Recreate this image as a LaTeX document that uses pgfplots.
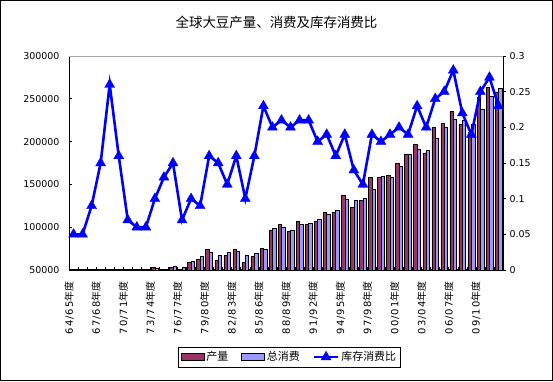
\documentclass[border=0pt]{standalone}
\usepackage{pgfplots}
\pgfplotsset{compat=1.18}
\usepackage{fontspec}
\setmainfont{Liberation Sans}
\newfontfamily\cjk{Noto Sans CJK SC}
\newfontfamily\numfont{DejaVu Sans}
\newfontfamily\lblnum{DejaVu Sans}[LetterSpace=10]
\definecolor{prod}{HTML}{993366}
\definecolor{cons}{HTML}{9999FF}
\definecolor{lineblue}{HTML}{0000FF}
\newcommand\lbl[1]{{\lblnum\fontsize{10}{10}\selectfont #1}{\cjk\fontsize{10}{10}\selectfont 年度}}
\pgfplotsset{
  prodleg/.style={legend image code/.code={\draw[fill=prod,draw=black,line width=0.6bp] (0bp,-3.5bp) rectangle (23bp,3.5bp);}},
  consleg/.style={legend image code/.code={\draw[fill=cons,draw=black,line width=0.6bp] (0bp,-3.5bp) rectangle (23bp,3.5bp);}},
  lineleg/.style={legend image code/.code={\draw[mark repeat=2,mark phase=2,##1] plot coordinates {(0bp,0bp) (12bp,0bp) (24bp,0bp)};}},
}
\begin{document}
\begin{tikzpicture}[x=1bp,y=1bp]
\useasboundingbox (0,0) rectangle (553,381);
\draw[black, line width=0.8bp] (0.5,0.5) rectangle (552.5,380.5);
\node[font=\cjk\fontsize{13.5}{15}\selectfont] at (276.5,359) {全球大豆产量、消费及库存消费比};
\begin{axis}[
  at={(69bp,111bp)}, anchor=south west, scale only axis,
  width=434bp, height=214bp,
  xmin=0.5, xmax=48.5, ymin=50000, ymax=300000,
  axis x line*=bottom, axis y line*=left,
  x axis line style={line width=1.3bp, -},
  y axis line style={line width=0.8bp, -},
  ybar=0pt, bar width=3.4bp,
  xtick={1,4,...,46},
  xticklabels={\lbl{64/65},\lbl{67/68},\lbl{70/71},\lbl{73/74},\lbl{76/77},\lbl{79/80},\lbl{82/83},\lbl{85/86},\lbl{88/89},\lbl{91/92},\lbl{94/95},\lbl{97/98},\lbl{00/01},\lbl{03/04},\lbl{06/07},\lbl{09/10}},
  major x tick style={draw=none},
  minor xtick={1.5,2.5,...,47.5},
  minor tick length=3bp,
  tick align=inside,
  major tick length=3bp,
  tick style={black, line width=0.6bp},
  xticklabel style={xshift=-4.5bp, rotate=90, anchor=east},
  xticklabel shift=8bp,
  ytick={50000,100000,150000,200000,250000,300000},
  scaled y ticks=false,
  yticklabel style={font=\numfont\fontsize{9.5}{10}\selectfont, xshift=-6bp,
    /pgf/number format/.cd, fixed, 1000 sep={}, assume math mode=true},
]
\addplot[fill=prod, draw=black, line width=0.5bp] coordinates {
(1,31000) (2,33000) (3,37000) (4,40000) (5,42000) (6,43000) (7,44000) (8,46000)
(9,49000) (10,53000) (11,50500) (12,53000) (13,50800) (14,59300) (15,62800) (16,74500)
(17,61700) (18,67500) (19,74100) (20,59300) (21,66300) (22,75300) (23,96700) (24,103700)
(25,94700) (26,107200) (27,103700) (28,107200) (29,116900) (30,116900) (31,137500) (32,123100)
(33,131700) (34,158100) (35,158900) (36,160800) (37,174500) (38,185000) (39,197000) (40,186800)
(41,216500) (42,221100) (43,235500) (44,220300) (45,211000) (46,252200) (47,263100) (48,258000)};
\addplot[fill=cons, draw=black, line width=0.5bp] coordinates {
(1,30000) (2,32000) (3,36000) (4,39000) (5,40000) (6,42000) (7,44000) (8,46000)
(9,48000) (10,52000) (11,50500) (12,54600) (13,53000) (14,60500) (15,66300) (16,70600)
(17,67500) (18,71000) (19,72200) (20,67500) (21,69800) (22,74100) (23,98600) (24,100500)
(25,96700) (26,103300) (27,104800) (28,109100) (29,115300) (30,120000) (31,132500) (32,131700)
(33,133600) (34,144100) (35,159700) (36,158900) (37,171300) (38,185000) (39,190800) (40,190000)
(41,203600) (42,216500) (43,225800) (44,225000) (45,220000) (46,237800) (47,253000) (48,262000)};
\end{axis}
\begin{axis}[
  at={(69bp,111bp)}, anchor=south west, scale only axis,
  width=434bp, height=214bp,
  xmin=0.5, xmax=48.5, ymin=0, ymax=0.3,
  axis y line*=right, axis x line*=top,
  x axis line style={gray!70, line width=0.8bp, -},
  y axis line style={black, line width=0.8bp, -},
  xtick=\empty,
  ytick={0,0.05,0.1,0.15,0.2,0.25,0.3},
  tick align=outside, major tick length=3bp,
  tick style={black, line width=0.6bp},
  yticklabel style={font=\numfont\fontsize{9.5}{10}\selectfont,
    /pgf/number format/.cd, fixed, precision=2, assume math mode=true},
  legend style={at={(0.508,-0.4065)}, anchor=center, draw=black, line width=0.6bp,
    font=\cjk\fontsize{11}{12}\selectfont, inner sep=2.5bp},
  legend columns=3,
  /tikz/every even column/.append style={column sep=11bp},
]
\addlegendimage{prodleg}
\addlegendentry{产量}
\addlegendimage{consleg}
\addlegendentry{总消费}
\addplot[color=lineblue, line width=2.6bp, mark=triangle*, mark size=5.8bp,
  mark options={solid, line width=0.3bp}, lineleg]
 coordinates {
(1,0.05) (2,0.05) (3,0.09) (4,0.15) (5,0.26) (6,0.16) (7,0.07) (8,0.06)
(9,0.06) (10,0.10) (11,0.13) (12,0.15) (13,0.07) (14,0.10) (15,0.09) (16,0.16)
(17,0.15) (18,0.12) (19,0.16) (20,0.10) (21,0.16) (22,0.23) (23,0.20) (24,0.21)
(25,0.20) (26,0.21) (27,0.21) (28,0.18) (29,0.19) (30,0.16) (31,0.19) (32,0.14)
(33,0.12) (34,0.19) (35,0.18) (36,0.19) (37,0.20) (38,0.19) (39,0.23) (40,0.20)
(41,0.24) (42,0.25) (43,0.28) (44,0.22) (45,0.19) (46,0.25) (47,0.27) (48,0.23)};
\addlegendentry{库存消费比}
\end{axis}
\end{tikzpicture}
\end{document}
